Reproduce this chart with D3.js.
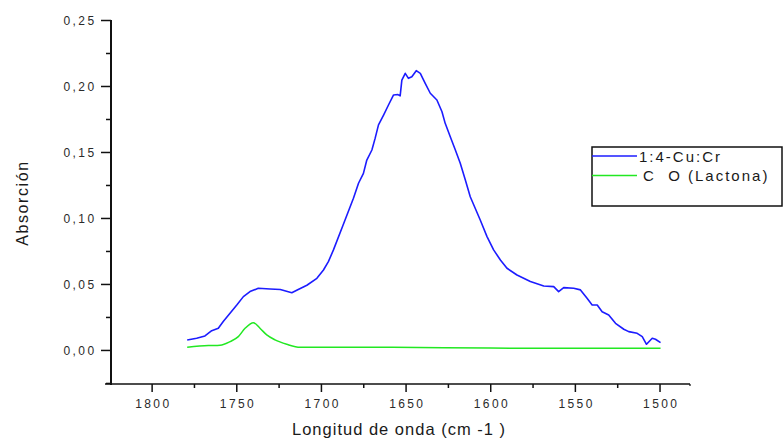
<!DOCTYPE html>
<html>
<head>
<meta charset="utf-8">
<script src="https://cdn.jsdelivr.net/npm/d3@7"></script>
<style>
  html, body { margin: 0; padding: 0; background: #ffffff; }
  svg { display: block; font-family: "Liberation Sans", Arial, sans-serif; }
</style>
</head>
<body>
<svg id="chart" width="783" height="439"></svg>
<script>
// IR absorption spectrum: 1:4-Cu:Cr sample and the C=O (lactone) band
const wavenumberBlue = [1779, 1773.4, 1768.5, 1764.5, 1760.6, 1757.7, 1753.7, 1749.7, 1745.8, 1741.9,
  1737, 1730, 1724, 1717.2, 1714.3, 1708.3, 1702.4, 1698.5, 1695.6, 1692.6,
  1686.9, 1680.8, 1677.8, 1674.9, 1672.9, 1669.9, 1668, 1666, 1663, 1660.1,
  1657.1, 1654.5, 1653.2, 1652.2, 1650.2, 1648.3, 1646.3, 1643.7, 1641.3, 1638.4,
  1635.4, 1631.5, 1628.5, 1626.6, 1623.6, 1620.6, 1617.7, 1614.7, 1611.8, 1605.9,
  1601.9, 1598, 1594, 1590.1, 1584.2, 1576.3, 1568.4, 1562.5, 1559.6, 1556.6,
  1550.7, 1546.7, 1542.8, 1539.8, 1536.8, 1533.9, 1530, 1526, 1521.1, 1518.2,
  1513.2, 1510.2, 1507.7, 1504.3, 1502.4, 1499.4];
const absorbanceBlue = [0.0076, 0.0089, 0.0106, 0.0146, 0.0164, 0.0215, 0.0278, 0.034, 0.0404, 0.0442,
  0.0467, 0.0462, 0.0458, 0.0434, 0.0452, 0.049, 0.0543, 0.0606, 0.0669, 0.0758,
  0.0947, 0.1149, 0.1263, 0.1338, 0.1439, 0.1515, 0.1603, 0.1705, 0.178, 0.1856,
  0.1932, 0.1935, 0.1925, 0.2045, 0.2096, 0.2058, 0.207, 0.2116, 0.2096, 0.202,
  0.1945, 0.1894, 0.1805, 0.1717, 0.1616, 0.1515, 0.1414, 0.1288, 0.1161, 0.0985,
  0.0859, 0.0758, 0.0682, 0.0619, 0.0568, 0.0518, 0.0485, 0.048, 0.0442, 0.0472,
  0.0467, 0.0455, 0.0391, 0.0341, 0.0341, 0.029, 0.0265, 0.0202, 0.0157, 0.0139,
  0.0126, 0.0101, 0.0043, 0.0089, 0.0081, 0.0055];

const wavenumberGreen = [1779, 1766.5, 1759.6, 1753.7, 1748.8, 1744.8, 1739.9, 1736, 1732, 1727.1,
  1720.2, 1712.3, 1660, 1600, 1550, 1499.4];
const absorbanceGreen = [0.002, 0.0033, 0.0036, 0.0063, 0.0101, 0.0164, 0.0207, 0.0164, 0.0114, 0.0076,
  0.0043, 0.002, 0.002, 0.0014, 0.0013, 0.0013];

const xTicks = [1800, 1750, 1700, 1650, 1600, 1550, 1500];
const xMinorTicks = [1775, 1725, 1675, 1625, 1575, 1525];
const yTicks = [0, 0.05, 0.10, 0.15, 0.20, 0.25];
const yMinorTicks = [-0.025, 0.025, 0.075, 0.125, 0.175, 0.225];

const seriesNames = ["1:4-Cu:Cr", "C  O (Lactona)"];
const seriesColors = ["#1c1cff", "#22e822"];

const svg = d3.select("#chart");

const x = d3.scaleLinear().domain([1824, 1482]).range([111, 690]);
const y = d3.scaleLinear().domain([-0.0258, 0.25]).range([384, 20]);

const fmtY = v => d3.format(".2f")(v).replace(".", ",");
const labelStyle = sel => sel
  .attr("font-size", "12px")
  .attr("letter-spacing", "2.4px")
  .attr("fill", "#2a2a2a");

// Y axis
const yAxisG = svg.append("g").attr("transform", `translate(${x.range()[0]},0)`);
yAxisG.call(d3.axisLeft(y).tickValues(yTicks).tickSize(10).tickSizeOuter(0).tickFormat(fmtY));
yAxisG.select(".domain").remove();
yAxisG.selectAll(".tick line").attr("stroke", "#111").attr("stroke-width", 1.5);
yAxisG.selectAll(".tick text").attr("x", -14.5).attr("dy", "0.36em").call(labelStyle);
svg.append("g").attr("transform", `translate(${x.range()[0]},0)`)
  .call(d3.axisLeft(y).tickValues(yMinorTicks).tickSize(5).tickFormat(""))
  .call(g => g.select(".domain").remove())
  .selectAll(".tick line").attr("stroke", "#111").attr("stroke-width", 1.5);
svg.append("line")
  .attr("x1", x.range()[0]).attr("x2", x.range()[0])
  .attr("y1", y(0.25)).attr("y2", y.range()[0] + 1)
  .attr("stroke", "#111").attr("stroke-width", 2);

// X axis
const xAxisG = svg.append("g").attr("transform", `translate(0,${y.range()[0]})`);
xAxisG.call(d3.axisBottom(x).tickValues(xTicks).tickSize(8).tickSizeOuter(0).tickFormat(d3.format("d")));
xAxisG.select(".domain").remove();
xAxisG.selectAll(".tick line").attr("stroke", "#111").attr("stroke-width", 1.5);
xAxisG.selectAll(".tick text").attr("y", 23.5).attr("dy", null).attr("dx", 1.2).call(labelStyle);
svg.append("g").attr("transform", `translate(0,${y.range()[0]})`)
  .call(d3.axisBottom(x).tickValues(xMinorTicks).tickSize(4).tickFormat(""))
  .call(g => g.select(".domain").remove())
  .selectAll(".tick line").attr("stroke", "#111").attr("stroke-width", 1.5);
svg.append("line")
  .attr("x1", x.range()[0] - 6).attr("x2", x.range()[1])
  .attr("y1", y.range()[0]).attr("y2", y.range()[0])
  .attr("stroke", "#111").attr("stroke-width", 1.6);
svg.append("line")
  .attr("x1", x.range()[1]).attr("x2", x.range()[1])
  .attr("y1", y.range()[0]).attr("y2", y.range()[0] + 2)
  .attr("stroke", "#111").attr("stroke-width", 1.2);

// Axis titles
svg.append("text")
  .attr("x", 399).attr("y", 434.5)
  .attr("text-anchor", "middle")
  .attr("font-size", "16.5px")
  .attr("letter-spacing", "1px")
  .attr("fill", "#1a1a1a")
  .text("Longitud de onda (cm -1 )");
svg.append("text")
  .attr("transform", "translate(28,203) rotate(-90)")
  .attr("text-anchor", "middle")
  .attr("font-size", "16px")
  .attr("letter-spacing", "1.6px")
  .attr("fill", "#1a1a1a")
  .text("Absorción");

// Spectra
const line = d3.line().x(d => x(d[0])).y(d => y(d[1]));
const blueData = d3.zip(wavenumberBlue, absorbanceBlue);
const greenData = d3.zip(wavenumberGreen, absorbanceGreen);
svg.append("path").datum(greenData)
  .attr("d", line.curve(d3.curveMonotoneX))
  .attr("fill", "none").attr("stroke", seriesColors[1]).attr("stroke-width", 1.5);
svg.append("path").datum(blueData)
  .attr("d", d3.line().x(d => x(d[0])).y(d => y(d[1])))
  .attr("fill", "none").attr("stroke", seriesColors[0]).attr("stroke-width", 1.6)
  .attr("stroke-linejoin", "round");

// Legend
const legend = svg.append("g");
legend.append("rect")
  .attr("x", 592).attr("y", 147).attr("width", 190).attr("height", 59)
  .attr("fill", "#ffffff").attr("stroke", "#111").attr("stroke-width", 1.5);
seriesNames.forEach((name, i) => {
  const ly = 156 + i * 19.5;
  legend.append("line")
    .attr("x1", 592).attr("x2", 637).attr("y1", ly).attr("y2", ly)
    .attr("stroke", seriesColors[i]).attr("stroke-width", 1.5);
  legend.append("text")
    .attr("x", i === 0 ? 639 : 643).attr("y", ly + 5.5)
    .attr("font-size", "15px")
    .attr("letter-spacing", "2px")
    .attr("fill", "#1a1a1a")
    .style("white-space", "pre")
    .attr("xml:space", "preserve")
    .text(name);
});
</script>
</body>
</html>
